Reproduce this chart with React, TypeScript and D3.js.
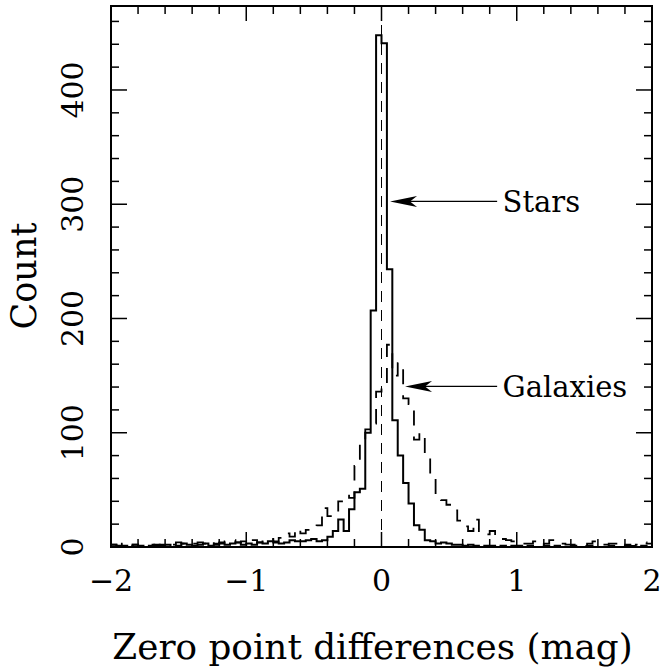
import React from 'react';
import * as d3 from 'd3';

// ---- data (bins of 0.04 mag from -2 to 2) ----
const binStart = -2;
const binWidth = 0.04;

const starCounts = [
  2, 1, 1, 0, 2, 1, 0, 1, 2, 1,
  2, 0, 1, 3, 2, 1, 2, 3, 1, 2,
  3, 2, 3, 4, 2, 3, 2, 4, 3, 5,
  4, 3, 4, 6, 5, 5, 6, 7, 5, 6,
  9, 14, 24, 14, 33, 48, 51, 100, 207, 448,
  441, 243, 111, 80, 56, 38, 19, 15, 6, 5,
  3, 4, 3, 2, 2, 1, 2, 1, 0, 1,
  1, 0, 1, 0, 1, 1, 0, 1, 0, 0,
  1, 0, 1, 0, 0, 1, 0, 0, 1, 0,
  0, 0, 1, 0, 0, 1, 0, 0, 1, 0,
];

const galaxyCounts = [
  2, 1, 3, 1, 2, 0, 1, 2, 1, 2,
  3, 2, 4, 3, 2, 3, 4, 3, 5, 3,
  4, 5, 6, 4, 5, 3, 6, 4, 5, 7,
  5, 8, 12, 9, 16, 12, 15, 18, 19, 34,
  27, 30, 40, 45, 43, 71, 92, 103, 108, 136,
  138, 177, 150, 161, 130, 125, 94, 100, 82, 62,
  45, 41, 37, 32, 23, 18, 14, 24, 12, 11,
  14, 9, 7, 6, 5, 5, 3, 3, 5, 2,
  3, 6, 4, 3, 2, 2, 2, 1, 3, 5,
  4, 2, 3, 3, 1, 2, 1, 2, 4, 3,
];

const xDomain = [-2, 2];
const yDomain = [0, 473.5];
const xMajorTicks = [-2, -1, 0, 1, 2];
const xTickLabels = ['\u22122', '\u22121', '0', '1', '2'];
const yMajorTicks = [0, 100, 200, 300, 400];
const yTickLabels = ['0', '100', '200', '300', '400'];
const xMinorStep = 0.2;
const yMinorStep = 20;

const annotations = [
  { label: 'Stars', y: 302.5, tipX: 0.063, tailX: 0.855, textX: 0.895 },
  { label: 'Galaxies', y: 140.5, tipX: 0.174, tailX: 0.855, textX: 0.895 },
];

const xLabel = 'Zero point differences (mag)';
const yLabel = 'Count';

const FONT = '"DejaVu Serif", serif';

export default function App() {
  const W = 662;
  const H = 670;
  const left = 111, right = 652, top = 6, bottom = 547;
  const x = d3.scaleLinear().domain(xDomain).range([left, right]);
  const y = d3.scaleLinear().domain(yDomain).range([bottom, top]);

  const edges = d3.range(starCounts.length + 1).map((i) => binStart + i * binWidth);
  const stepPath = (counts: number[]) => {
    const pts: [number, number][] = counts.map((c, i) => [edges[i], c]);
    pts.push([edges[counts.length], counts[counts.length - 1]]);
    return d3
      .line<[number, number]>()
      .x((d) => x(d[0]))
      .y((d) => y(d[1]))
      .curve(d3.curveStepAfter)(pts) as string;
  };

  const nx = Math.round((xDomain[1] - xDomain[0]) / xMinorStep);
  const xMinor = d3.range(nx + 1).map((i) => xDomain[0] + i * xMinorStep);
  const ny = Math.floor(yDomain[1] / yMinorStep);
  const yMinor = d3.range(ny + 1).map((i) => i * yMinorStep);

  const isMajorX = (v: number) => Math.abs(v - Math.round(v)) < 1e-6;
  const isMajorY = (v: number) => v % 100 === 0;
  const majorLen = 15, minorLen = 8;

  return (
    <svg
      width={W}
      height={H}
      style={{ position: 'absolute', left: 0, top: 0, background: '#fff' }}
      xmlns="http://www.w3.org/2000/svg"
    >
      <defs>
        <clipPath id="plotClip">
          <rect x={left} y={top} width={right - left} height={bottom - top} />
        </clipPath>
      </defs>
      <rect x={0} y={0} width={W} height={H} fill="#fff" />
      <g clipPath="url(#plotClip)">
        {/* reference line at zero */}
        <line
          x1={x(0)} x2={x(0)} y1={top} y2={bottom}
          stroke="#000" strokeWidth={1} strokeDasharray="11 8"
        />
        <path d={stepPath(galaxyCounts)} fill="none" stroke="#000" strokeWidth={1.8} strokeDasharray="15 11" />
        <path d={stepPath(starCounts)} fill="none" stroke="#000" strokeWidth={2} />
      </g>

      {/* frame */}
      <rect x={left} y={top} width={right - left} height={bottom - top} fill="none" stroke="#000" strokeWidth={2} />

      {/* x ticks top & bottom */}
      {xMinor.map((v, i) => {
        const len = isMajorX(v) ? majorLen : minorLen;
        return (
          <g key={'xt' + i}>
            <line x1={x(v)} x2={x(v)} y1={bottom} y2={bottom - len} stroke="#000" strokeWidth={1.5} />
            <line x1={x(v)} x2={x(v)} y1={top} y2={top + len} stroke="#000" strokeWidth={1.5} />
          </g>
        );
      })}
      {/* y ticks left & right */}
      {yMinor.map((v, i) => {
        const len = isMajorY(v) ? majorLen + 1 : minorLen;
        return (
          <g key={'yt' + i}>
            <line x1={left} x2={left + len} y1={y(v)} y2={y(v)} stroke="#000" strokeWidth={1.5} />
            <line x1={right} x2={right - len} y1={y(v)} y2={y(v)} stroke="#000" strokeWidth={1.5} />
          </g>
        );
      })}

      {/* x tick labels */}
      {xMajorTicks.map((v, i) => (
        <text key={'xl' + i} x={x(v)} y={591} textAnchor="middle" fontFamily={FONT} fontSize={30}>
          {xTickLabels[i]}
        </text>
      ))}
      {/* y tick labels (rotated) */}
      {yMajorTicks.map((v, i) => (
        <text
          key={'yl' + i}
          transform={`translate(83,${y(v)}) rotate(-90)`}
          textAnchor="middle"
          fontFamily={FONT}
          fontSize={30}
        >
          {yTickLabels[i]}
        </text>
      ))}

      {/* axis labels */}
      <text x={372.5} y={659} textAnchor="middle" fontFamily={FONT} fontSize={35.8}>
        {xLabel}
      </text>
      <text transform={`translate(36,276) rotate(-90)`} textAnchor="middle" fontFamily={FONT} fontSize={35}>
        {yLabel}
      </text>

      {/* annotations */}
      {annotations.map((a, i) => {
        const tx = x(a.tipX), ty = y(a.y), tail = x(a.tailX);
        const L = 27, hw = 5.5, notch = 7;
        const head = `M${tx},${ty} L${tx + L},${ty - hw} L${tx + L - notch},${ty} L${tx + L},${ty + hw} Z`;
        return (
          <g key={'ann' + i}>
            <line x1={tx + 10} x2={tail} y1={ty} y2={ty} stroke="#000" strokeWidth={1.3} />
            <path d={head} fill="#000" />
            <text x={x(a.textX)} y={ty} dy="0.36em" fontFamily={FONT} fontSize={29}>
              {a.label}
            </text>
          </g>
        );
      })}
    </svg>
  );
}
